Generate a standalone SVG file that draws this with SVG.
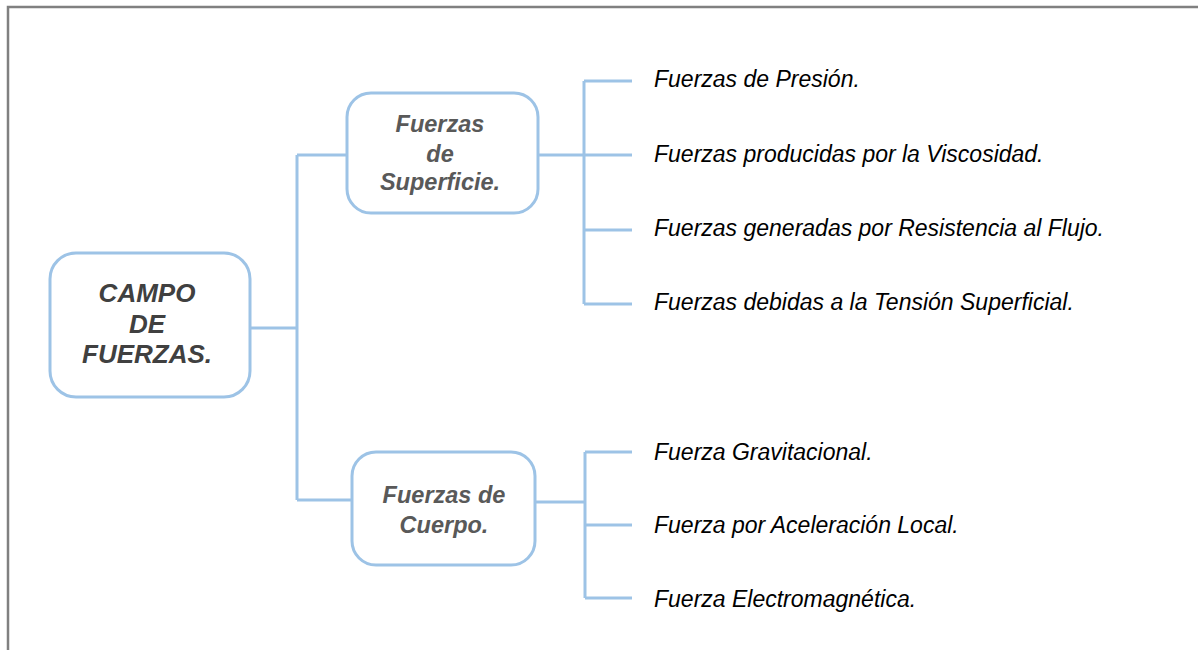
<svg xmlns="http://www.w3.org/2000/svg" width="1198" height="650" viewBox="0 0 1198 650">
<style>
.frame{fill:none;stroke:#808080;stroke-width:2.5}
.box{fill:#ffffff;stroke:#9DC3E6;stroke-width:3}
.conn{fill:none;stroke:#9DC3E6;stroke-width:3}
.main{font-family:"Liberation Sans",Arial,sans-serif;font-weight:bold;font-style:italic;font-size:26px;fill:#404040;text-anchor:middle}
.sub{font-family:"Liberation Sans",Arial,sans-serif;font-weight:bold;font-style:italic;font-size:23.5px;fill:#595959;text-anchor:middle}
.leaf{font-family:"Liberation Sans",Arial,sans-serif;font-style:italic;font-size:23px;fill:#000000}
</style>
<rect width="1198" height="650" fill="#ffffff"/>
<rect class="frame" x="8" y="7" width="1200" height="660"/>
<g id="connectors">
<path class="conn" d="M250,328 H297 M297,155 V500 M297,155 H347 M297,500 H352"/>
<path class="conn" d="M538,155 H584 M584,81 V304 M584,81 H632 M584,155 H632 M584,230 H632 M584,304 H632"/>
<path class="conn" d="M535,502 H585 M585,452 V598 M585,452 H632 M585,525 H632 M585,598 H632"/>
</g>
<g id="campo">
<rect class="box" x="50" y="253" width="200" height="144" rx="26"/>
<text class="main" x="147" y="302">CAMPO</text>
<text class="main" x="147" y="333">DE</text>
<text class="main" x="147" y="363">FUERZAS.</text>
</g>
<g id="superficie">
<rect class="box" x="347" y="93" width="191" height="120" rx="24"/>
<text class="sub" x="440" y="132">Fuerzas</text>
<text class="sub" x="440" y="162">de</text>
<text class="sub" x="440" y="190">Superficie.</text>
</g>
<g id="cuerpo">
<rect class="box" x="352" y="452" width="183" height="113" rx="24"/>
<text class="sub" x="444" y="503">Fuerzas de</text>
<text class="sub" x="444" y="533">Cuerpo.</text>
</g>
<g id="leaf-presion"><text class="leaf" x="654" y="87">Fuerzas de Presión.</text></g>
<g id="leaf-viscosidad"><text class="leaf" x="654" y="162">Fuerzas producidas por la Viscosidad.</text></g>
<g id="leaf-flujo"><text class="leaf" x="654" y="236">Fuerzas generadas por Resistencia al Flujo.</text></g>
<g id="leaf-tension"><text class="leaf" x="654" y="310">Fuerzas debidas a la Tensión Superficial.</text></g>
<g id="leaf-gravitacional"><text class="leaf" x="654" y="460">Fuerza Gravitacional.</text></g>
<g id="leaf-aceleracion"><text class="leaf" x="654" y="533">Fuerza por Aceleración Local.</text></g>
<g id="leaf-electromagnetica"><text class="leaf" x="654" y="607">Fuerza Electromagnética.</text></g>
</svg>
